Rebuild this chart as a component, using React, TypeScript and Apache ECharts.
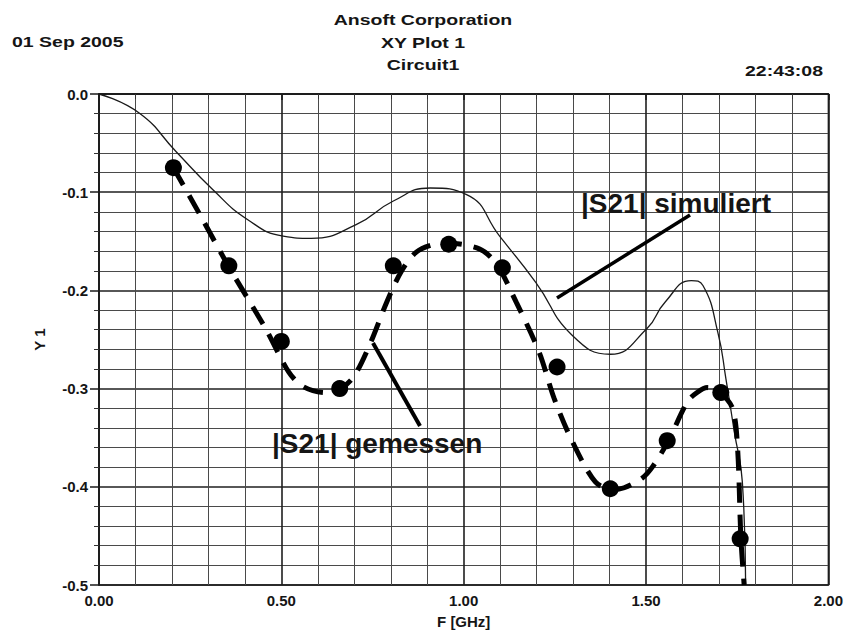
import React, { useEffect, useRef } from "react";
import * as echarts from "echarts";

// Simulated |S21| (thin solid curve)
const simFreq = [0, 0.111, 0.211, 0.311, 0.408, 0.505, 0.582, 0.705, 0.807, 0.908, 1.008, 1.099, 1.198, 1.298, 1.402, 1.502, 1.552, 1.624, 1.656, 1.697, 1.719, 1.742, 1.764, 1.773];
const simValue = [0, -0.0196, -0.0585, -0.097, -0.128, -0.1447, -0.147, -0.133, -0.109, -0.0957, -0.1024, -0.145, -0.192, -0.246, -0.265, -0.239, -0.212, -0.19, -0.195, -0.243, -0.29, -0.344, -0.395, -0.5];

// Measured |S21| trace (thick dashed curve)
const traceFreq = [0.204, 0.28, 0.356, 0.457, 0.52, 0.56, 0.62, 0.66, 0.70, 0.745, 0.79, 0.83, 0.87, 0.92, 0.96, 1.044, 1.09, 1.144, 1.207, 1.248, 1.298, 1.361, 1.41, 1.44, 1.49, 1.519, 1.56, 1.614, 1.64, 1.668, 1.70, 1.737, 1.751, 1.76, 1.769];
const traceValue = [-0.075, -0.125, -0.176, -0.239, -0.283, -0.298, -0.304, -0.301, -0.287, -0.253, -0.211, -0.18, -0.161, -0.153, -0.152, -0.158, -0.173, -0.212, -0.263, -0.31, -0.354, -0.395, -0.403, -0.401, -0.391, -0.379, -0.354, -0.313, -0.304, -0.299, -0.303, -0.32, -0.361, -0.452, -0.5];

// Measured points (filled dots)
const measFreq = [0.204, 0.356, 0.5, 0.66, 0.807, 0.959, 1.106, 1.256, 1.402, 1.558, 1.705, 1.758];
const measValue = [-0.075, -0.175, -0.252, -0.3, -0.175, -0.153, -0.177, -0.278, -0.402, -0.353, -0.304, -0.453];

const xMin = 0;
const xMax = 2;
const xStep = 0.5;
const yMin = -0.5;
const yMax = 0;
const yStep = 0.1;

const headerLeft = "01 Sep 2005";
const headerTitle = ["Ansoft Corporation", "XY Plot 1", "Circuit1"];
const headerRight = "22:43:08";
const labelSim = "|S21| simuliert";
const labelMeas = "|S21| gemessen";

const FONT = '"Liberation Sans", Arial, Helvetica, sans-serif';

function zip(xs: number[], ys: number[]) {
  return xs.map((x, i) => [x, ys[i]]);
}

function headText(text: string, x: number, y: number, align: string) {
  return {
    type: "text",
    x,
    y,
    scaleX: 1.3,
    style: {
      text,
      font: `bold 15px ${FONT}`,
      fill: "#151515",
      textAlign: align,
      align,
      textVerticalAlign: "middle",
      verticalAlign: "middle",
    },
  };
}

export default function App() {
  const ref = useRef<HTMLDivElement>(null);

  useEffect(() => {
    if (!ref.current) return;
    const chart = echarts.init(ref.current, undefined, { renderer: "svg" });
    const option: any = {
      animation: false,
      backgroundColor: "#ffffff",
      grid: {
        left: 99,
        top: 94,
        width: 736,
        height: 493,
        show: true,
        borderColor: "#1a1a1a",
        borderWidth: 1.5,
        backgroundColor: "transparent",
      },
      xAxis: {
        type: "value",
        min: xMin,
        max: xMax,
        interval: xStep,
        name: "F [GHz]",
        nameLocation: "middle",
        nameGap: 29,
        nameTextStyle: { fontFamily: FONT, fontWeight: "bold", fontSize: 15, color: "#151515" },
        axisLine: { show: true, lineStyle: { color: "#1a1a1a", width: 1.5 } },
        axisTick: { show: true, inside: false, length: 6, lineStyle: { color: "#1a1a1a", width: 1.5 } },
        minorTick: { show: true, splitNumber: 5, length: 5, lineStyle: { color: "#333", width: 1 } },
        splitLine: { show: true, lineStyle: { color: "#1f1f1f", width: 1.6 } },
        minorSplitLine: { show: true, lineStyle: { color: "#4a4a4a", width: 1 } },
        axisLabel: {
          margin: 8,
          fontFamily: FONT,
          fontWeight: "bold",
          fontSize: 15,
          color: "#151515",
          formatter: (v: number) => v.toFixed(2),
        },
      },
      yAxis: {
        type: "value",
        min: yMin,
        max: yMax,
        interval: yStep,
        name: "Y 1",
        nameLocation: "middle",
        nameRotate: 90,
        nameGap: 52,
        nameTextStyle: { fontFamily: FONT, fontWeight: "bold", fontSize: 15, color: "#151515" },
        axisLine: { show: true, lineStyle: { color: "#1a1a1a", width: 1.5 } },
        axisTick: { show: true, inside: false, length: 9, lineStyle: { color: "#1a1a1a", width: 1.5 } },
        minorTick: { show: true, splitNumber: 5, length: 5, lineStyle: { color: "#333", width: 1 } },
        splitLine: { show: true, lineStyle: { color: "#1f1f1f", width: 1.6 } },
        minorSplitLine: { show: true, lineStyle: { color: "#4a4a4a", width: 1 } },
        axisLabel: {
          margin: 11,
          fontFamily: FONT,
          fontWeight: "bold",
          fontSize: 15,
          color: "#151515",
          formatter: (v: number) => (Math.abs(v) < 1e-9 ? "0.0" : v.toFixed(1)),
        },
      },
      series: [
        {
          name: "simuliert",
          type: "line",
          data: zip(simFreq, simValue),
          smooth: 0.5,
          symbol: "none",
          lineStyle: { color: "#1a1a1a", width: 1.3 },
          z: 3,
        },
        {
          name: "gemessen",
          type: "line",
          data: zip(traceFreq, traceValue),
          smooth: 0.3,
          symbol: "none",
          lineStyle: { color: "#000", width: 5, type: [20, 12], cap: "butt" },
          z: 4,
        },
        {
          name: "gemessen Punkte",
          type: "scatter",
          data: zip(measFreq, measValue),
          symbol: "circle",
          symbolSize: 17,
          itemStyle: { color: "#000", opacity: 1 },
          z: 5,
        },
      ],
      graphic: [
        headText(headerLeft, 12, 42, "left"),
        headText(headerTitle[0], 423, 20, "center"),
        headText(headerTitle[1], 423, 43, "center"),
        headText(headerTitle[2], 423, 65, "center"),
        headText(headerRight, 823, 71, "right"),
        {
          type: "line",
          shape: { x1: 557, y1: 298, x2: 690, y2: 215 },
          style: { stroke: "#000", lineWidth: 3.5 },
          z: 10,
        },
        {
          type: "line",
          shape: { x1: 373, y1: 343, x2: 420, y2: 426 },
          style: { stroke: "#000", lineWidth: 4 },
          z: 10,
        },
        {
          type: "text",
          x: 581,
          y: 203,
          z: 10,
          style: {
            text: labelSim,
            font: `bold 28px ${FONT}`,
            fill: "#151515",
            textAlign: "left",
            align: "left",
            textVerticalAlign: "middle",
            verticalAlign: "middle",
          },
        },
        {
          type: "text",
          x: 272,
          y: 443,
          z: 10,
          style: {
            text: labelMeas,
            font: `bold 28px ${FONT}`,
            fill: "#151515",
            textAlign: "left",
            align: "left",
            textVerticalAlign: "middle",
            verticalAlign: "middle",
          },
        },
      ],
    };
    chart.setOption(option);
    return () => chart.dispose();
  }, []);

  return (
    <div
      ref={ref}
      style={{ position: "absolute", left: 0, top: 0, width: 846, height: 634, background: "#fff" }}
    />
  );
}
